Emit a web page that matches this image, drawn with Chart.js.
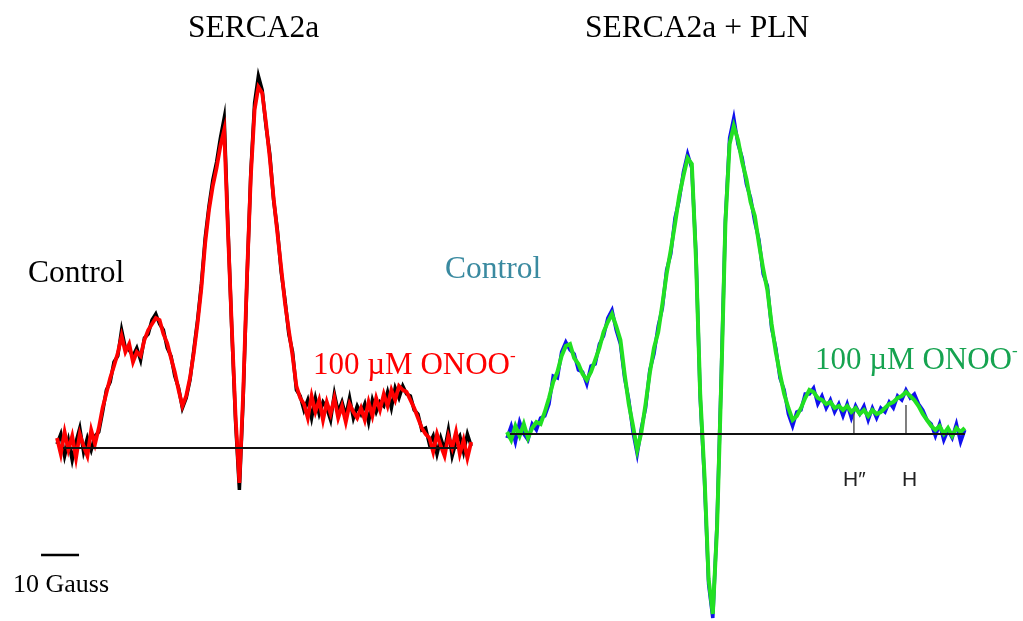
<!DOCTYPE html>
<html>
<head>
<meta charset="utf-8">
<script src="https://cdn.jsdelivr.net/npm/chart.js@4.4.0/dist/chart.umd.min.js"></script>
<style>
  body { margin: 0; background: #fff; width: 1023px; height: 621px; overflow: hidden; position: relative; }
  canvas { position: absolute; top: 0; }
  #leftChart { left: 0; }
  #rightChart { left: 505px; }
  .lbl { position: absolute; white-space: nowrap; font-family: "Liberation Serif", "Times New Roman", serif; line-height: 1; }
  .lbl sup { font-size: 0.55em; vertical-align: 0.75em; }
  .sans { font-family: "Liberation Sans", Arial, sans-serif; color: #222; }
</style>
</head>
<body>
<canvas id="leftChart" width="505" height="621"></canvas>
<canvas id="rightChart" width="518" height="621"></canvas>

<div class="lbl" style="left:188px; top:11px; font-size:31.5px;">SERCA2a</div>
<div class="lbl" style="left:585px; top:11px; font-size:31.5px;">SERCA2a + PLN</div>
<div class="lbl" style="left:28px; top:256px; font-size:31.5px;">Control</div>
<div class="lbl" style="left:445px; top:252px; font-size:31.5px; color:#3a8aa0;">Control</div>
<div class="lbl" style="left:313px; top:347px; font-size:31px; color:#ff0000;">100 &micro;M ONOO<sup>-</sup></div>
<div class="lbl" style="left:815px; top:342px; font-size:31px; color:#16a350;">100 &micro;M ONOO<sup>-</sup></div>
<div class="lbl" style="left:13px; top:571px; font-size:26px;">10 Gauss</div>
<div class="lbl sans" style="left:843px; top:468px; font-size:21px;">H&Prime;</div>
<div class="lbl sans" style="left:902px; top:468px; font-size:21px;">H</div>

<script>
// field offset in Gauss, 1 G steps
const field = Array.from({ length: 110 }, (_, i) => i);

// SERCA2a (left panel)
const sercaControl = [
  4, 14, -8, 8, -12, 6, 20, -4, 10, -2, 12,
  16, 36, 58, 66, 86, 92, 118, 100, 98, 92, 100, 88, 110, 114, 128, 134, 124, 118, 100, 92, 72, 60, 40,
  50, 68, 98, 128, 164, 210, 242, 268, 286, 310, 330, 220, 118, 26, -42, 50, 168, 275, 345, 372, 358, 322, 294, 248, 218, 176, 148, 114, 96, 58, 52,
  38, 48, 30, 50, 34, 46, 40, 28, 54, 36, 46, 32, 50, 30, 42, 34, 44, 26, 48, 36, 46, 42, 56, 40, 60, 50,
  62, 54, 52, 38, 34, 18, 20,
  4, 12, -6, 10, -2, 18, -8, 6, 12, -4, 14, 2
];
const sercaOnoo = [
  10, -6, 16, -2, 12, -10, 14, 2, -8, 18, 4,
  20, 40, 55, 70, 82, 95, 112, 96, 104, 86, 96, 92, 108, 118, 124, 130, 128, 114, 105, 90, 76, 58, 42,
  52, 70, 95, 125, 160, 205, 238, 262, 280, 302, 318, 216, 121, 31, -35, 55, 171, 271, 338, 361, 355, 325, 290, 250, 215, 180, 145, 118, 92, 62, 50,
  44, 30, 52, 36, 48, 28, 46, 34, 50, 30, 42, 26, 44, 36, 30, 40, 28, 46, 32, 50, 38, 54, 42, 58, 48, 62,
  58, 56, 48, 40, 30, 20, 14,
  10, -4, 14, 2, -8, 12, 0, 16, -6, 8, -10, 6
];

// SERCA2a + PLN (right panel)
const plnControl = [
  -4, 8, -8, 12, 0, -6, 10, 4, 16, 18,
  30, 58, 56, 82, 92, 84, 80, 64, 62, 50, 68, 70, 90, 98, 116, 124, 104, 90, 56, 34, 2, -20,
  6, 26, 64, 80, 108, 126, 164, 180, 216, 234, 262, 280, 266, 180, 36, -44, -150, -184, -90, 56, 214, 296, 316, 290, 276, 250, 236, 212, 194, 160, 148, 106, 86,
  56, 44, 20, 8, 22, 24, 40, 40, 46, 30, 38, 26, 34, 22, 30, 18, 30, 16, 28, 20, 28, 14, 26, 16, 26, 22, 32, 26, 38, 34, 44, 36, 40, 30, 24, 14, 10,
  -2, 10, -6, 4, -4, 10, -8, 4
];
const plnOnoo = [
  2, -6, 8, -2, 10, -4, 6, 12, 10, 22,
  36, 52, 62, 78, 88, 90, 76, 70, 60, 54, 62, 74, 86, 102, 112, 120, 108, 94, 60, 30, 8, -16,
  2, 30, 61, 86, 102, 130, 160, 184, 210, 238, 258, 276, 270, 175, 40, -40, -145, -180, -95, 50, 211, 290, 308, 294, 272, 255, 232, 218, 190, 165, 144, 110, 82,
  60, 40, 26, 14, 18, 26, 36, 44, 42, 36, 34, 30, 32, 26, 28, 24, 28, 22, 26, 20, 24, 18, 24, 20, 22, 26, 30, 32, 36, 38, 42, 38, 34, 28, 20, 14, 8,
  4, 8, 0, 6, -2, 6, 2, 6
];

// reference lines: baselines, scale bar, H'' and H markers
const leftBaseline = [[1.6, 0], [105.3, 0]];
const scaleBar = [[-4.2, -107], [5.8, -107]];
const rightBaseline = [[0.7, 0], [109, 0]];
const markerH2 = [[82.6, 0], [82.6, 21]];
const markerH = [[95, 0], [95, 29]];

function pts(ys) {
  return field.map((x, i) => ({ x: x, y: ys[i] }));
}
function seg(p) {
  return p.map(v => ({ x: v[0], y: v[1] }));
}
function line(data, color, width, order) {
  return {
    data: data, borderColor: color, borderWidth: width, order: order,
    showLine: true, pointRadius: 0, tension: 0, clip: false, fill: false
  };
}
function makeChart(id, datasets, xr, yr) {
  return new Chart(document.getElementById(id), {
    type: 'scatter',
    data: { datasets: datasets },
    options: {
      responsive: false,
      animation: false,
      devicePixelRatio: 1,
      layout: { padding: 0 },
      plugins: { legend: { display: false }, tooltip: { enabled: false } },
      scales: {
        x: { type: 'linear', display: false, min: xr[0], max: xr[1] },
        y: { type: 'linear', display: false, min: yr[0], max: yr[1] }
      }
    }
  });
}

window.onload = function () {
  makeChart('leftChart', [
    line(seg(leftBaseline), '#111', 2.2, 0),
    line(seg(scaleBar), '#000', 2.5, 0),
    line(pts(sercaOnoo), '#ff0000', 3.8, 1),
    line(pts(sercaControl), '#000000', 3.5, 2)
  ], [-15, 117.9], [-173, 448]);

  makeChart('rightChart', [
    line(seg(rightBaseline), '#111', 2.2, 0),
    line(seg(markerH2), '#555', 1.5, 0),
    line(seg(markerH), '#555', 1.5, 0),
    line(pts(plnOnoo), '#22e022', 4, 1),
    line(pts(plnControl), '#1010ee', 3.5, 2)
  ], [-0.476, 122.86], [-187, 434]);
};
</script>
</body>
</html>
